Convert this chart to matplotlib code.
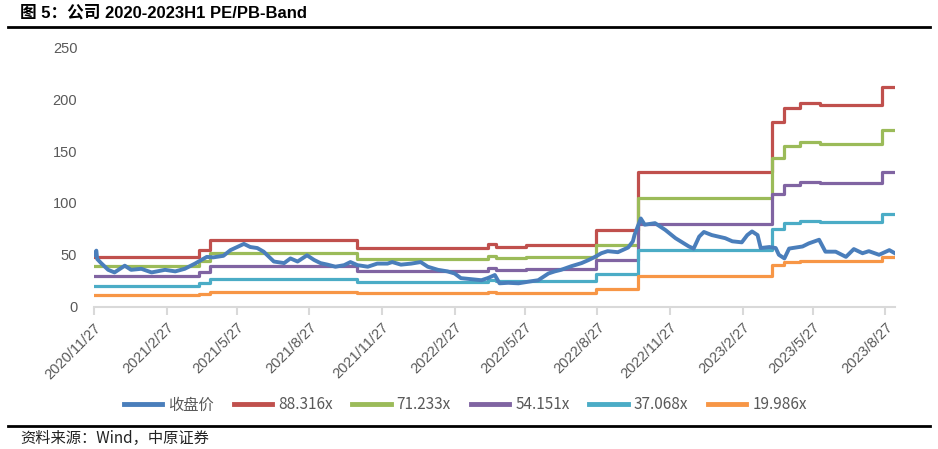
import matplotlib
matplotlib.use("Agg")
import matplotlib.pyplot as plt
import numpy as np
import pandas as pd

# ---------------- data ----------------
price_dates = [
    "2020-11-27", "2020-11-30", "2020-12-01", "2020-12-06", "2020-12-15", "2020-12-23",
    "2021-01-05", "2021-01-13", "2021-01-26", "2021-02-08", "2021-02-25", "2021-03-10",
    "2021-03-22", "2021-04-04", "2021-04-12", "2021-04-19", "2021-04-27", "2021-05-10",
    "2021-05-19", "2021-06-05", "2021-06-13", "2021-06-22", "2021-06-30", "2021-07-13",
    "2021-07-26", "2021-08-03", "2021-08-12", "2021-08-24", "2021-09-02", "2021-09-10",
    "2021-09-19", "2021-09-29", "2021-10-10", "2021-10-18", "2021-10-27", "2021-11-09",
    "2021-11-21", "2021-12-04", "2021-12-10", "2021-12-21", "2022-01-03", "2022-01-15",
    "2022-01-24", "2022-02-06", "2022-02-18", "2022-02-27", "2022-03-07", "2022-03-20",
    "2022-04-02", "2022-04-10", "2022-04-19", "2022-04-25", "2022-05-06", "2022-05-19",
    "2022-05-31", "2022-06-13", "2022-06-26", "2022-07-04", "2022-07-12", "2022-07-25",
    "2022-08-07", "2022-08-16", "2022-08-24", "2022-09-01", "2022-09-09", "2022-09-22",
    "2022-10-05", "2022-10-11", "2022-10-13", "2022-10-21", "2022-10-26", "2022-11-08",
    "2022-11-21", "2022-12-04", "2022-12-21", "2022-12-27", "2023-01-03", "2023-01-09",
    "2023-01-19", "2023-02-05", "2023-02-14", "2023-02-26", "2023-03-05", "2023-03-11",
    "2023-03-18", "2023-03-22", "2023-04-02", "2023-04-10", "2023-04-14", "2023-04-21",
    "2023-04-27", "2023-05-14", "2023-05-22", "2023-06-04", "2023-06-12", "2023-06-25",
    "2023-07-08", "2023-07-18", "2023-07-29", "2023-08-06", "2023-08-19", "2023-09-01",
    "2023-09-08",
]
price_values = [
    50.0, 54.0, 46.0, 42.0, 35.5, 33.0,
    39.5, 35.5, 36.5, 33.0, 35.5, 34.0,
    36.5, 41.5, 45.0, 48.0, 47.5, 49.0,
    54.5, 60.5, 57.5, 56.5, 53.0, 43.5,
    42.0, 46.5, 43.5, 49.5, 45.0, 42.0,
    40.5, 38.5, 40.0, 43.0, 40.0, 38.5,
    41.5, 41.5, 43.0, 40.5, 41.5, 43.0,
    38.5, 35.5, 34.0, 32.0, 27.5, 26.5,
    25.5, 27.5, 30.5, 22.5, 23.0, 22.5,
    24.0, 25.5, 32.0, 34.0, 35.5, 39.0,
    42.0, 45.0, 48.0, 51.5, 53.5, 52.5,
    57.0, 63.0, 69.0, 85.0, 79.0, 80.5,
    74.0, 66.0, 58.0, 56.0, 67.5, 72.0,
    69.0, 66.0, 63.0, 62.0, 69.0, 72.5,
    69.0, 56.5, 57.5, 56.5, 50.0, 46.5,
    56.0, 58.0, 61.0, 64.5, 53.0, 53.0,
    48.0, 55.5, 51.5, 53.5, 50.0, 54.5,
    51.5,
]

eps_dates = [
    "2020-11-27", "2021-04-09", "2021-04-23", "2021-10-26", "2022-04-10",
    "2022-04-21", "2022-05-29", "2022-08-25", "2022-10-17", "2023-04-05",
    "2023-04-20", "2023-05-11", "2023-06-05", "2023-08-23", "2023-09-08",
]
eps_values = [
    0.547, 0.619, 0.729, 0.640, 0.685,
    0.656, 0.675, 0.838, 1.467, 2.014,
    2.172, 2.222, 2.205, 2.397, 2.397,
]

multiples = [88.316, 71.233, 54.151, 37.068, 19.986]
band_labels = ["88.316x", "71.233x", "54.151x", "37.068x", "19.986x"]
price_label = "收盘价"

tick_labels = ["2020/11/27", "2021/2/27", "2021/5/27", "2021/8/27", "2021/11/27",
               "2022/2/27", "2022/5/27", "2022/8/27", "2022/11/27", "2023/2/27",
               "2023/5/27", "2023/8/27"]
y_ticks = [0, 50, 100, 150, 200, 250]

# ---------------- style ----------------
price_color = "#4A7EBB"
band_colors = ["#C0504D", "#9BBB59", "#8064A2", "#4BACC6", "#F79646"]
text_gray = "#595959"

plt.rcParams['font.family'] = ['Liberation Sans', 'Noto Sans CJK SC', 'DejaVu Sans']

fig = plt.figure(figsize=(9.38, 4.49), dpi=100)
ax = fig.add_axes([0.1002, 0.317, 0.954 - 0.1002, 0.8947 - 0.317])

pd_dates = pd.to_datetime(price_dates)
e_dates = pd.to_datetime(eps_dates)
eps = np.array(eps_values)

ax.plot(pd_dates, price_values, color=price_color, lw=2.8, label=price_label,
        solid_joinstyle='round', zorder=5)
for m, lab, c in zip(multiples, band_labels, band_colors):
    ax.step(e_dates, eps * m, where='post', color=c, lw=2.3, label=lab, zorder=3)

ax.set_ylim(0, 250)
ax.set_yticks(y_ticks)
ax.set_xlim(pd.Timestamp("2020-11-27"), pd.Timestamp("2023-09-08"))

tick_dates = [pd.to_datetime(t, format="%Y/%m/%d") for t in tick_labels]
ax.set_xticks(tick_dates)
ax.set_xticklabels(tick_labels, rotation=45, ha='right', rotation_mode='anchor')

for s in ['top', 'right', 'left']:
    ax.spines[s].set_visible(False)
ax.spines['bottom'].set_color('#D9D9D9')
ax.spines['bottom'].set_linewidth(1.5)
ax.tick_params(axis='x', colors='#D9D9D9', length=6, width=1.5, pad=4,
               labelcolor=text_gray, labelsize=10.5)
ax.tick_params(axis='y', length=0, pad=12, labelcolor=text_gray, labelsize=10.5)

leg = fig.legend(loc='center', bbox_to_anchor=(0.496, 0.098), ncol=6, frameon=False,
                 prop={'family': ['Noto Sans CJK SC', 'DejaVu Sans'], 'size': 11},
                 handlelength=2.5, handletextpad=0.4, columnspacing=1.3)
for t in leg.get_texts():
    t.set_color(text_gray)
for h in leg.get_lines():
    h.set_linewidth(3.5)

# title & lines
fig.text(20 / 938, 1 - 13 / 449, "图 5：公司 2020-2023H1 PE/PB-Band", fontsize=12,
         fontweight='bold', va='center', ha='left',
         family=['Liberation Sans', 'Noto Sans CJK SC'])
fig.add_artist(plt.Line2D([8 / 938, 930 / 938], [1 - 27 / 449, 1 - 27 / 449],
                          color='black', lw=2.0))
fig.add_artist(plt.Line2D([8 / 938, 930 / 938], [1 - 426 / 449, 1 - 426 / 449],
                          color='black', lw=2.0))
fig.text(20 / 938, 1 - 438 / 449, "资料来源：Wind，中原证券", fontsize=11,
         va='center', ha='left', color='#222222',
         family=['Noto Sans CJK SC', 'DejaVu Sans'])

fig.savefig("out.png", dpi=100)
